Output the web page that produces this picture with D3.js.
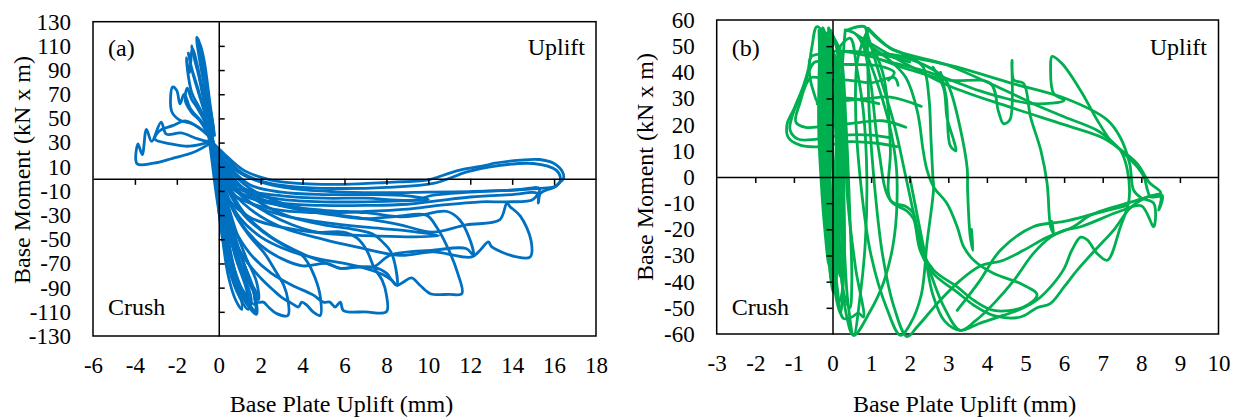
<!DOCTYPE html>
<html>
<head>
<meta charset="utf-8">
<script src="https://cdn.jsdelivr.net/npm/d3@7"></script>
<style>
  body { margin: 0; background: #fff; }
  svg text { font-family: "Liberation Serif", "Times New Roman", serif; fill: #000; }
</style>
</head>
<body>
<svg id="chart" width="1241" height="418"></svg>
<script>
// ---- panel (a): base plate uplift (mm) vs base moment (kN x m), blue loops ----
const aXTicks = [-6, -4, -2, 0, 2, 4, 6, 8, 10, 12, 14, 16, 18];
const aYTicks = [-130, -110, -90, -70, -50, -30, -10, 10, 30, 50, 70, 90, 110, 130];

const aLobe1 = [[-0.35,30],[-1.2,22],[-2.2,17],[-3.1,13],[-3.9,12.5],[-3.85,29],[-3.65,20],[-3.45,41],[-3.2,31],[-2.75,47],[-2.5,37],[-1.8,38],[-1.0,33],[-0.35,30]];
const aLobe2 = [[-0.35,31],[-1.4,27],[-2.3,29],[-3.05,33],[-2.8,40],[-2.2,44],[-1.6,48],[-1.0,43],[-0.35,33]];
const aLobe3 = [[-0.3,34],[-1.2,45],[-1.9,49],[-2.25,56],[-2.2,76],[-2.0,73],[-1.85,62],[-1.65,70],[-1.35,58],[-0.8,47],[-0.3,36]];
const aLobe4 = [[-0.3,38],[-0.9,58],[-1.3,72],[-1.55,100],[-1.4,88],[-1.25,108],[-1.05,96],[-0.7,68],[-0.3,42]];
const aLobe5 = [[-0.25,40],[-0.6,70],[-0.9,97],[-1.05,117],[-0.95,114],[-0.8,100],[-0.5,68],[-0.25,42]];
const aLobe6 = [[-0.2,36],[-0.5,66],[-0.8,96],[-0.9,112],[-0.7,98],[-0.4,60],[-0.2,36]];
const aLobe7 = [[-0.3,35],[-0.7,70],[-1.1,95],[-1.3,110],[-1.2,102],[-0.95,85],[-0.6,55],[-0.3,38]];
const aLobe8 = [[-0.3,33],[-0.8,62],[-1.25,88],[-1.45,104],[-1.3,92],[-1.0,75],[-0.6,50],[-0.3,35]];
const aLobe9 = [[-0.35,32],[-0.9,48],[-1.3,55],[-1.6,65],[-1.5,75],[-1.3,66],[-1.0,58],[-0.6,45],[-0.35,34]];

const aFan1 = [[-0.5,45],[-0.2,10],[0.1,-40],[0.5,-75],[1.0,-98],[1.4,-108],[1.55,-100],[1.2,-80],[0.7,-50],[0.2,-10],[-0.2,25],[-0.5,45]];
const aFan2 = [[-0.4,40],[-0.1,5],[0.2,-35],[0.7,-72],[1.2,-95],[1.75,-110],[1.7,-96],[1.4,-80],[0.9,-55],[0.4,-20],[0.0,10],[-0.4,40]];
const aFan3 = [[-0.6,55],[-0.3,20],[0.0,-20],[0.4,-60],[0.9,-88],[1.3,-100],[1.5,-106],[1.3,-90],[0.8,-65],[0.3,-30],[-0.1,0],[-0.6,55]];
const aFan4 = [[-0.7,60],[-0.4,25],[-0.1,-15],[0.3,-55],[0.8,-85],[1.2,-100],[1.8,-112],[1.75,-98],[1.3,-75],[0.7,-45],[0.2,-10],[-0.2,20],[-0.7,60]];
const aFan5 = [[-0.5,50],[-0.15,0],[0.15,-45],[0.45,-80],[0.8,-100],[1.1,-108],[1.0,-92],[0.6,-65],[0.25,-30],[-0.1,10],[-0.5,50]];
const aFan6 = [[-0.45,45],[-0.1,-5],[0.3,-50],[0.7,-78],[1.3,-96],[1.7,-104],[1.6,-88],[1.0,-62],[0.5,-32],[0.1,0],[-0.45,45]];
const aFan7 = [[-0.55,50],[-0.2,5],[0.05,-30],[0.35,-62],[0.65,-82],[0.95,-95],[0.8,-80],[0.5,-55],[0.2,-25],[-0.1,5],[-0.55,50]];
const aFan8 = [[-0.4,42],[0.0,-8],[0.5,-45],[1.0,-70],[1.5,-88],[1.9,-100],[1.8,-85],[1.3,-65],[0.8,-42],[0.3,-12],[-0.4,42]];

const aLoop1 = [[-0.3,30],[0.0,-5],[0.3,-35],[0.8,-62],[1.4,-82],[1.8,-95],[1.81,-102],[2.13,-102],[2.37,-106],[2.77,-111.5],[3.3,-113],[3.3,-100],[3.1,-88],[2.7,-76],[2.2,-62],[1.5,-48],[0.8,-30],[0.3,-8],[-0.3,30]];
const aLoop2 = [[-0.3,30],[0.1,-10],[0.5,-40],[1.2,-65],[2.0,-82],[2.6,-92],[3.0,-98],[3.48,-103],[3.8,-106],[3.96,-102],[4.2,-104.5],[4.5,-110],[4.84,-113],[4.84,-97],[4.6,-82],[4.2,-68],[3.9,-62],[3.1,-55],[2.2,-45],[1.2,-30],[0.4,-8],[-0.3,30]];
const aLoop3 = [[-0.3,30],[0.2,-15],[0.7,-40],[1.5,-62],[2.5,-78],[3.5,-88],[4.5,-96],[4.99,-102],[5.3,-102],[5.55,-106],[5.8,-102],[5.95,-109],[7.0,-110],[8.0,-110],[8.0,-96],[7.8,-84],[7.4,-73],[7.06,-59],[6.6,-49],[5.95,-44],[4.7,-44],[3.5,-38],[2.3,-28],[1.2,-15],[0.4,5],[-0.3,30]];
const aLoop4 = [[-0.3,30],[0.3,-10],[1.0,-35],[2.0,-55],[3.0,-66],[4.0,-72],[5.15,-70],[5.8,-74],[6.6,-73],[7.38,-73],[8.0,-78],[8.26,-84],[8.5,-88],[8.4,-70],[8.2,-60],[7.86,-53],[7.38,-46],[6.5,-42],[5.0,-38],[3.5,-32],[2.0,-20],[0.8,-2],[-0.3,30]];
const aLoop5 = [[-0.3,30],[0.3,-10],[1.0,-32],[2.0,-48],[3.0,-57],[4.0,-63],[5.0,-67],[6.0,-70],[7.0,-74],[7.8,-79],[8.26,-84],[8.5,-88],[8.8,-85.5],[9.2,-82],[9.6,-88],[10.1,-95],[11.0,-95.5],[11.6,-95],[11.4,-78],[10.9,-56],[10.4,-40],[9.9,-30],[8.5,-31],[7.0,-33],[5.5,-30],[4.0,-26],[2.5,-20],[1.2,-8],[0.3,10],[-0.3,30]];
const aLoop6 = [[-0.3,30],[0.4,-5],[1.5,-25],[3.0,-40],[5.0,-50],[6.5,-56],[8.66,-63.3],[10.24,-60.4],[12.07,-64.6],[12.47,-59],[12.87,-52.2],[13.03,-56.3],[14.22,-64.6],[14.86,-64.6],[14.9,-51],[14.4,-31],[13.9,-23],[13.75,-20],[13.4,-34],[11.8,-38],[10.2,-44],[8.66,-38],[7.0,-33],[5.0,-28],[3.0,-20],[1.5,-8],[0.4,10],[-0.3,30]];
const aLoop7 = [[-0.3,30],[0.3,-2],[1.2,-14],[3.0,-22],[5.0,-26],[7.0,-28],[8.66,-31.4],[9.6,-30],[10.9,-27],[11.5,-34],[12.0,-51],[12.15,-63],[11.8,-57.6],[10.24,-59],[8.2,-63],[7.38,-72.8],[6.6,-72.8],[5.8,-74],[5.15,-70],[4.0,-62],[2.5,-48],[1.2,-28],[0.3,0],[-0.3,30]];
const aLoop8 = [[-0.3,30],[0.5,0],[1.5,-10],[3.0,-14],[5.0,-16],[7.0,-16],[9.3,-17.6],[10.24,-13.5],[12.0,-11],[15.2,-8],[16.0,-6.6],[16.3,-2.5],[16.45,0.3],[16.4,5.8],[16.0,12.7],[15.3,16],[14.4,15.5],[13.1,12.7],[12.8,11.3],[11.5,7.2],[10.24,0.3],[9.93,-1],[8.0,-3],[6.0,-4.5],[4.0,-4],[2.5,-1],[1.2,7],[0.3,20],[-0.3,30]];
const aLoop9 = [[-0.3,30],[0.5,-5],[1.5,-15],[3.0,-20],[5.0,-22],[7.0,-22],[9.0,-21],[10.5,-18],[12.0,-15],[14.0,-13],[15.2,-12],[15.25,-20],[15.35,-12],[16.1,-6],[16.3,-1],[16.1,7.2],[15.0,12.7],[12.95,10],[11.84,5.8],[10.24,-3.8],[8.0,-7],[6.0,-8],[4.0,-7],[2.5,-4],[1.2,4],[0.3,18],[-0.3,30]];
const aLoop10 = [[-0.3,30],[0.5,-10],[1.5,-20],[3.0,-26],[5.0,-28],[7.0,-27],[9.0,-25],[10.5,-22],[12.5,-19],[13.75,-19],[15.0,-17],[15.3,-8],[14.0,-9.5],[12.0,-10.5],[10.0,-11],[8.0,-11.5],[6.0,-11],[4.0,-9],[2.5,-5],[1.2,3],[0.3,15],[-0.3,30]];
const aLoop11 = [[-0.3,30],[0.4,-15],[1.5,-32],[3.0,-40],[5.0,-45],[7.0,-47],[9.0,-48],[10.5,-47],[9.0,-43],[7.0,-40],[5.0,-36],[3.0,-30],[1.5,-20],[0.4,0],[-0.3,30]];
const aLoop12 = [[-0.3,30],[0.5,-3],[1.5,-12],[3.0,-17],[5.0,-19],[7.0,-19],[9.0,-18],[10.0,-17],[9.0,-14],[7.0,-13],[5.0,-13],[3.0,-11],[1.5,-5],[0.4,12],[-0.3,30]];

// ---- panel (b): green loops ----
const bXTicks = [-3, -2, -1, 0, 1, 2, 3, 4, 5, 6, 7, 8, 9, 10];
const bYTicks = [-60, -50, -40, -30, -20, -10, 0, 10, 20, 30, 40, 50, 60];

const bBand1 = [[-0.35,56],[-0.3,30],[-0.22,0],[-0.12,-25],[-0.02,-40],[0.08,-30],[0.12,0],[0.08,30],[-0.05,50],[-0.35,56]];
const bBand2 = [[-0.2,52],[-0.22,20],[-0.1,-20],[0.08,-45],[0.2,-52],[0.28,-40],[0.3,-10],[0.25,20],[0.1,45],[-0.2,52]];
const bBand3 = [[-0.1,57],[-0.15,25],[-0.02,-15],[0.12,-42],[0.28,-54],[0.5,-53.5],[0.67,-52],[0.8,-53.5],[0.6,-35],[0.4,-10],[0.3,20],[0.2,45],[-0.1,57]];
const bBand4 = [[-0.3,50],[-0.25,10],[-0.15,-20],[0.0,-38],[0.05,-20],[0.0,10],[-0.1,40],[-0.3,50]];
const bBand5 = [[-0.25,57],[-0.28,35],[-0.2,5],[-0.1,-20],[0.05,-35],[0.15,-20],[0.2,10],[0.15,40],[-0.25,57]];
const bBand6 = [[-0.15,55],[-0.2,30],[-0.12,0],[0.0,-30],[0.15,-48],[0.25,-44],[0.22,-15],[0.18,15],[0.05,45],[-0.15,55]];
const bBand7 = [[-0.3,53],[-0.32,25],[-0.25,-5],[-0.1,-30],[0.02,-44],[0.1,-38],[0.05,-10],[-0.05,20],[-0.15,45],[-0.3,53]];
const bBand8 = [[0.0,54],[-0.05,30],[0.05,0],[0.15,-25],[0.3,-45],[0.45,-50],[0.5,-40],[0.45,-15],[0.35,20],[0.2,48],[0.0,54]];
const bBand9 = [[-0.32,55],[-0.36,20],[-0.3,0],[-0.2,-20],[-0.08,-34],[0.0,-28],[-0.05,-5],[-0.12,25],[-0.32,55]];
const bBand10 = [[-0.05,56],[-0.1,30],[0.0,5],[0.1,-20],[0.2,-38],[0.3,-30],[0.28,-5],[0.22,25],[0.1,50],[-0.05,56]];
const bBand11 = [[-0.22,54],[-0.26,25],[-0.18,-2],[-0.05,-25],[0.05,-40],[0.15,-32],[0.12,-8],[0.05,25],[-0.22,54]];

const bLobe1 = [[0.0,50],[-0.4,57.5],[-0.53,50],[-0.62,41.5],[-0.75,35],[-1.0,26],[-1.18,20],[-1.14,15],[-0.84,12.2],[-0.3,11.6],[0.4,13.5],[1.15,12.9],[1.67,11.6]];
const bLobe2 = [[0.05,42],[-0.45,44],[-0.8,32],[-1.05,23],[-1.1,18],[-0.9,14.5],[-0.4,14.5],[0.3,16],[1.0,16],[1.5,15]];
const bLobe3 = [[0.0,36],[-0.55,38],[-0.85,28],[-0.95,21],[-0.7,19],[-0.2,19.5],[0.5,20.5],[1.3,21.5],[1.9,19]];
const bLobe4 = [[0.0,47],[-0.55,46],[-0.6,40],[-0.5,33],[-0.35,28],[-0.1,30],[0.5,30],[1.2,28]];

const bTop1 = [[-0.3,48],[0.5,48],[1.2,47],[2.0,44]];
const bTop2 = [[-0.2,43],[0.5,43],[1.2,42.5],[1.6,40],[1.45,37]];
const bTop3 = [[-0.2,37],[0.4,37],[1.0,36],[1.6,38],[1.7,35]];
const bTop4 = [[-0.4,28],[0.2,29],[0.9,30],[1.5,30.5],[2.3,27]];

const bLeaf1 = [[0.2,50],[0.46,53],[0.63,41.5],[0.8,25],[0.89,0],[0.85,-25],[0.72,-45],[0.55,-60.5],[0.4,-48],[0.3,-25],[0.2,5],[0.15,35],[0.2,50]];
const bLeaf2 = [[0.33,56.2],[0.63,54.3],[0.89,46.6],[1.15,36.4],[1.41,23.7],[1.58,12.2],[1.67,0],[1.6,-23],[1.33,-40],[0.95,-52],[0.55,-60.5],[0.35,-52],[0.2,-30],[0.15,0],[0.2,30],[0.33,56.2]];
const bLeaf3 = [[0.93,56.8],[1.5,49.2],[2.0,46],[2.35,42],[2.5,30],[2.55,15],[2.6,0],[2.62,-4],[2.45,-25],[2.3,-45],[2.02,-56],[1.76,-60.5],[1.4,-50],[1.0,-30],[0.75,-5],[0.6,25],[0.65,45],[0.93,56.8]];
const bLeaf4 = [[1.45,47],[2.2,44],[2.88,38],[3.05,33.2],[3.31,18.6],[3.49,3.3],[3.5,-5],[3.57,-23],[3.64,-28],[3.6,-20]];
const bHook = [[2.6,42],[2.88,33.9],[2.97,22.4],[3.14,14],[3.2,10],[3.05,12],[2.95,30],[2.8,40]];

const bMid1 = [[0.8,51.7],[1.45,45],[1.9,38],[2.2,25],[2.35,10],[2.45,2.6],[2.62,-3.8],[2.97,-10.2],[3.23,-19],[3.4,-26.7],[3.66,-31.8],[4.18,-36.9],[4.87,-40.7],[5.3,-45],[4.95,-49.7],[4.18,-51],[3.66,-47.1],[3.23,-42],[2.62,-35.6],[2.27,-26.7],[2.1,-14],[1.93,-11.5],[1.5,-8.9],[1.2,10],[1.0,35],[0.8,51.7]];
const bMid2 = [[0.63,54.3],[1.0,50],[1.3,40],[1.45,25],[1.5,10],[1.5,-8.9],[1.93,-13],[2.1,-16],[2.27,-28],[2.62,-37],[3.23,-44],[3.66,-49],[4.18,-53],[4.87,-53.5],[5.3,-50],[5.65,-48.3],[6.0,-42],[6.34,-35.6],[6.8,-28],[7.3,-20],[7.7,-12],[8.1,-8],[8.5,-6],[8.2,-2],[7.9,5],[7.5,10],[7.0,15],[6.0,20],[4.6,26.7],[3.0,35],[1.45,47],[0.63,54.3]];

const bBig1 = [[0.9,56.8],[1.5,49.2],[2.97,42.8],[4.35,33.9],[5.2,28],[6.0,23],[6.86,17.8],[7.2,14],[7.38,11.5],[7.9,3.8],[8.07,0],[8.16,-5],[8.24,-7.6],[8.5,-7.6],[8.45,-12.7],[8.54,-7],[7.64,-10],[6.68,-14.6],[6.24,-19],[5.56,-23],[4.95,-28],[4.43,-31.8],[3.83,-34],[3.31,-39.5],[2.79,-47.1],[2.19,-57.3],[1.93,-61],[1.6,-50],[1.3,-30],[1.1,-5],[0.95,25],[0.9,56.8]];
const bBig2 = [[0.35,56],[0.85,57.3],[0.89,47.7],[1.45,47],[3.05,42.7],[4.6,36],[6.04,30],[7.1,22],[7.46,15],[7.7,5],[7.8,-5],[8.0,-8],[8.32,-10],[8.32,-19],[8.0,-11],[7.46,-13],[6.43,-19],[6.0,-20.4],[5.65,-23],[5.2,-29.3],[4.7,-39.5],[4.2,-48],[3.7,-55],[3.31,-58.6],[2.9,-50],[2.5,-35],[2.2,-20],[1.9,0],[1.6,20],[1.2,40],[0.85,57.3]];
const bSpike1 = [[0.3,48],[1.0,46],[2.0,41],[3.0,37],[4.09,35.8],[4.3,25],[4.43,20.4],[4.6,22],[4.65,44.6],[4.7,37],[4.95,35.8],[5.13,23],[5.4,10],[5.56,-2.5],[5.65,-19],[5.73,-21.6],[5.68,-17]];
const bSpike2 = [[1.2,45],[2.5,40],[3.8,33],[4.5,30],[5.2,28],[6.0,29.3],[5.73,31.9],[5.65,42],[5.69,46.1],[5.95,43.3],[6.43,33],[6.86,21.7],[7.2,14],[7.46,10.2],[7.64,2.6],[7.68,-8.9],[7.46,-19],[7.12,-31.8],[6.86,-29.3],[6.6,-24],[6.43,-23],[6.2,-28],[6.0,-35],[5.65,-42],[5.3,-47],[4.95,-50],[4.4,-53],[3.8,-56],[3.31,-58.6],[2.9,-55],[2.6,-45],[2.4,-30],[2.2,-15],[2.0,0]];
const bLow1 = [[3.23,-51],[3.8,-40],[4.35,-28],[5.2,-19],[6.0,-17],[6.8,-14],[7.6,-11]];

const svg = d3.select('#chart');
const serif = '"Liberation Serif", "Times New Roman", serif';

function drawPanel(p) {
    const g = svg.append('g');
    const x = d3.scaleLinear().domain(p.xDomain).range([p.left, p.right]);
    const y = d3.scaleLinear().domain(p.yDomain).range([p.bottom, p.top]);

    g.append('rect')
        .attr('x', p.left).attr('y', p.top)
        .attr('width', p.right - p.left).attr('height', p.bottom - p.top)
        .attr('fill', 'none').attr('stroke', '#000').attr('stroke-width', 1.5);

    // loops
    const line = d3.line()
        .x(d => x(d[0]))
        .y(d => y(d[1]))
        .curve(d3.curveCatmullRom.alpha(0.5));
    p.loops.forEach(l => {
        g.append('path')
            .attr('d', line(l))
            .attr('fill', 'none')
            .attr('stroke', p.color)
            .attr('stroke-width', 2.8)
            .attr('stroke-linejoin', 'round')
            .attr('stroke-linecap', 'round');
    });

    // zero lines with tick marks
    const inner = v => v !== p.xDomain[0] && v !== p.xDomain[1] && v !== 0;
    const xZero = d3.axisBottom(x).tickValues(p.xTicks.filter(inner)).tickSize(6).tickSizeOuter(0).tickFormat('');
    g.append('g').attr('transform', `translate(0,${y(0)})`).call(xZero);

    const yInner = p.yTicks.filter(v => v !== p.yDomain[0] && v !== p.yDomain[1] && v !== 0);
    const yAxisFn = p.yTickSide === 'right' ? d3.axisRight(y) : d3.axisLeft(y);
    const yZero = yAxisFn.tickValues(yInner).tickSize(6).tickSizeOuter(0).tickFormat('');
    g.append('g').attr('transform', `translate(${x(0)},0)`).call(yZero);

    g.selectAll('.domain, .tick line').attr('stroke', '#000').attr('stroke-width', 1.5);

    // tick labels along frame edges
    const xLab = g.append('g').attr('transform', `translate(0,${p.bottom})`)
        .call(d3.axisBottom(x).tickValues(p.xTicks).tickSize(0).tickPadding(21));
    const yLab = g.append('g').attr('transform', `translate(${p.left},0)`)
        .call(d3.axisLeft(y).tickValues(p.yTicks).tickSize(0).tickPadding(22));
    [xLab, yLab].forEach(a => {
        a.select('.domain').remove();
        a.attr('font-family', serif).attr('font-size', 23);
        a.selectAll('text').style('font-family', serif).text(d => d < 0 ? '-' + Math.abs(d) : String(d));
    });

    // titles
    g.append('text')
        .attr('x', (p.left + p.right) / 2 - 3).attr('y', 412)
        .attr('text-anchor', 'middle').attr('font-size', 24)
        .text('Base Plate Uplift (mm)');
    g.append('text')
        .attr('transform', `translate(${p.yTitleX},${p.yTitleY}) rotate(-90)`)
        .attr('text-anchor', 'middle').attr('font-size', 24)
        .text('Base Moment (kN x m)');

    // annotations
    g.append('text').attr('x', p.left + 15).attr('y', 56).attr('font-size', 24).text(p.tag);
    g.append('text').attr('x', p.upliftX).attr('y', 55).attr('text-anchor', 'end').attr('font-size', 24).text('Uplift');
    g.append('text').attr('x', p.left + 15).attr('y', 315).attr('font-size', 24).text('Crush');
}

drawPanel({
    tag: '(a)', color: '#0070C0',
    xDomain: [-6, 18], yDomain: [-130, 130],
    xTicks: aXTicks, yTicks: aYTicks,
    left: 93, right: 596, top: 21.7, bottom: 336,
    yTickSide: 'right', yTitleX: 30, yTitleY: 170, upliftX: 585,
    loops: [aLobe1, aLobe2, aLobe3, aLobe4, aLobe5, aLobe6, aLobe7, aLobe8, aLobe9,
            aFan1, aFan2, aFan3, aFan4, aFan5, aFan6, aFan7, aFan8,
            aLoop1, aLoop2, aLoop3, aLoop4, aLoop5, aLoop6, aLoop7, aLoop8, aLoop9, aLoop10, aLoop11, aLoop12]
});

drawPanel({
    tag: '(b)', color: '#00B050',
    xDomain: [-3, 10], yDomain: [-60, 60],
    xTicks: bXTicks, yTicks: bYTicks,
    left: 716.7, right: 1218.5, top: 20, bottom: 334,
    yTickSide: 'left', yTitleX: 653, yTitleY: 167, upliftX: 1207,
    loops: [bBand1, bBand2, bBand3, bBand4, bBand5, bBand6, bBand7, bBand8, bBand9, bBand10, bBand11,
            bLobe1, bLobe2, bLobe3, bLobe4, bTop1, bTop2, bTop3, bTop4,
            bLeaf1, bLeaf2, bLeaf3, bLeaf4, bHook, bMid1, bMid2, bBig1, bBig2, bSpike1, bSpike2, bLow1]
});
</script>
</body>
</html>
